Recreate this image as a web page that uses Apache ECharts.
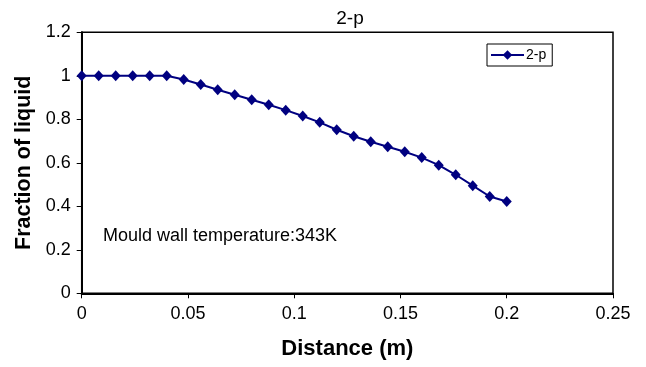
<!DOCTYPE html>
<html><head><meta charset="utf-8">
<script src="https://cdn.jsdelivr.net/npm/echarts@6/dist/echarts.min.js"></script>
<style>html,body{margin:0;padding:0;background:#fff}#c{width:646px;height:367px}</style>
</head><body><div id="c"></div>
<script>
const distance = [0,0.008,0.016,0.024,0.032,0.04,0.048,0.056,0.064,0.072,0.08,0.088,0.096,0.104,0.112,0.12,0.128,0.136,0.144,0.152,0.16,0.168,0.176,0.184,0.192,0.2];
const fraction = [1,1,1,1,1,1,0.983,0.96,0.936,0.913,0.89,0.867,0.842,0.815,0.786,0.752,0.722,0.697,0.674,0.651,0.624,0.589,0.545,0.495,0.445,0.422];
const seriesName = '2-p';
const titleText = '2-p';
const xName = 'Distance (m)';
const yName = 'Fraction of liquid';
const note = 'Mould wall temperature:343K';

const chart = echarts.init(document.getElementById('c'));
const font = 'Liberation Sans, Arial, sans-serif';
chart.setOption({
  animation:false,
  backgroundColor:'#fff',
  title:{text:titleText,left:345,top:4,textAlign:'center',textStyle:{fontFamily:font,fontSize:19,fontWeight:'normal',color:'#000'}},
  legend:{left:487,top:44,orient:'vertical',borderColor:'#000',borderWidth:1,borderRadius:0,padding:[4,6,4,3],itemWidth:33,itemHeight:12,itemGap:2,
    textStyle:{fontFamily:font,fontSize:14,color:'#000',padding:[0,0,0,-3]},data:[seriesName]},
  grid:{left:81.7,right:33,top:32.3,bottom:73.7,show:true,borderColor:'#000',borderWidth:1.5,containLabel:false},
  xAxis:{type:'value',min:0,max:0.25,interval:0.05,name:xName,nameLocation:'middle',nameGap:45,
    nameTextStyle:{fontFamily:font,fontSize:22,fontWeight:'bold',color:'#000'},
    axisLine:{show:true,lineStyle:{color:'#000',width:2}},axisTick:{show:true,length:5,lineStyle:{color:'#000',width:1}},
    axisLabel:{fontFamily:font,fontSize:18,color:'#000',margin:12},splitLine:{show:false}},
  yAxis:{type:'value',min:0,max:1.2,interval:0.2,name:yName,nameLocation:'middle',nameGap:44,
    nameTextStyle:{fontFamily:font,fontSize:21.5,fontWeight:'bold',color:'#000'},
    axisLine:{show:true,lineStyle:{color:'#000',width:2}},axisTick:{show:true,length:5,lineStyle:{color:'#000',width:1}},
    axisLabel:{fontFamily:font,fontSize:18,color:'#000',margin:11,formatter:v=>String(Math.round(v*10)/10)},splitLine:{show:false}},
  graphic:[{type:'text',left:103,top:227,style:{text:note,font:'18px Liberation Sans, Arial, sans-serif',fill:'#000'}}],
  series:[{name:seriesName,type:'line',data:distance.map((d,i)=>[d,fraction[i]]),symbol:'diamond',symbolSize:[10,11],
    lineStyle:{color:'#000080',width:2},itemStyle:{color:'#000080'}}]
});
</script></body></html>
